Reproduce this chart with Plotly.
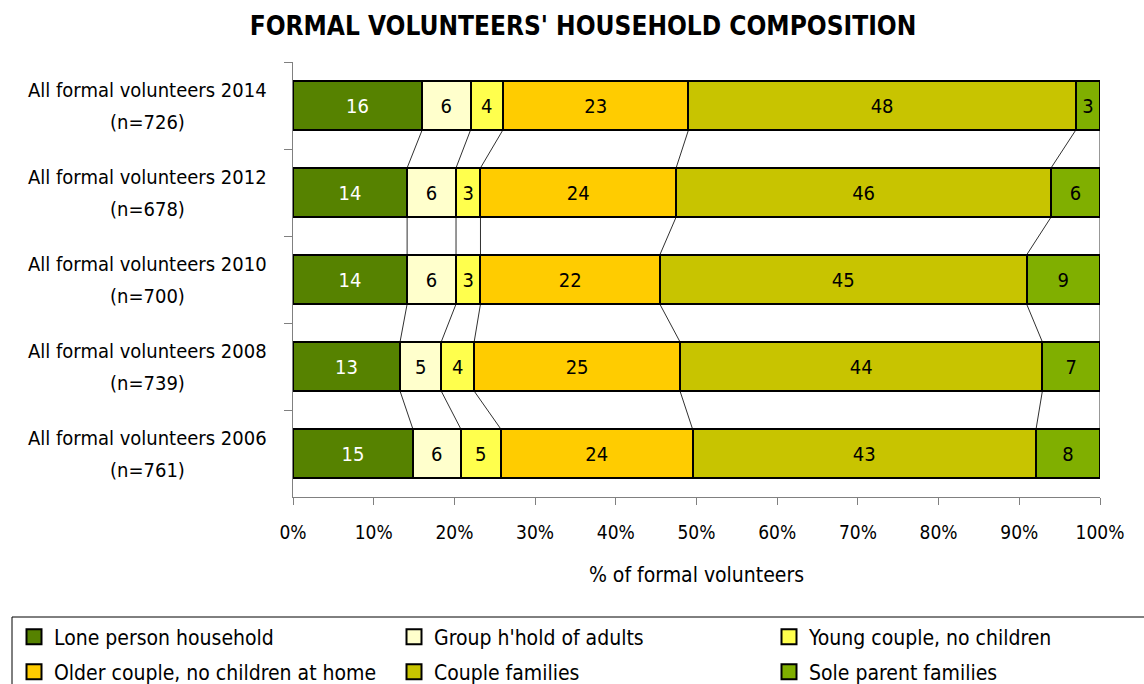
import plotly.graph_objects as go

# Survey groups (top to bottom) and their sample sizes
groups = [
    "All formal volunteers 2014",
    "All formal volunteers 2012",
    "All formal volunteers 2010",
    "All formal volunteers 2008",
    "All formal volunteers 2006",
]
sample_sizes = ["(n=726)", "(n=678)", "(n=700)", "(n=739)", "(n=761)"]

# Household composition shares (%), one list per household type
lone_person = [16, 14, 14, 13, 15]
group_household = [6, 6, 6, 5, 6]
young_couple = [4, 3, 3, 4, 5]
older_couple = [23, 24, 22, 25, 24]
couple_families = [48, 46, 45, 44, 43]
sole_parent = [3, 6, 9, 7, 8]

series_names = [
    "Lone person household",
    "Group h'hold of adults",
    "Young couple, no children",
    "Older couple, no children at home",
    "Couple families",
    "Sole parent families",
]
series_values = [lone_person, group_household, young_couple,
                 older_couple, couple_families, sole_parent]
series_colors = ["#568200", "#FFFFCC", "#FFFF4D", "#FFCC00", "#C8C400", "#80AF00"]
label_colors = ["white", "black", "black", "black", "black", "black"]

FONT = "Liberation Sans Narrow, Arial Narrow, DejaVu Sans Condensed, sans-serif"
BAR_WIDTH = 0.565

# Plot-area geometry in pixels
M_L, M_R, M_T, M_B = 293, 44, 62, 187
W, H = 1144, 684
PLOT_W = W - M_L - M_R
PLOT_H = H - M_T - M_B


def px_x(px):
    return (px - M_L) / PLOT_W


def px_y(py):
    return (H - M_B - py) / PLOT_H


fig = go.Figure()

for name, vals, col, tcol in zip(series_names, series_values, series_colors, label_colors):
    fig.add_trace(go.Bar(
        y=groups, x=vals, name=name, orientation="h",
        marker=dict(color=col, line=dict(color="black", width=2)),
        width=BAR_WIDTH,
        text=[str(v) for v in vals], texttemplate="%{text}",
        textposition="inside", insidetextanchor="middle", textangle=0,
        textfont=dict(family=FONT, size=20, color=tcol),
        showlegend=False, hoverinfo="skip",
    ))

# Legend: three columns by two rows, one legend box per entry
legend_cols = [34, 414, 789]
legend_rows = [637, 672]
legend_layouts = {}
for i, (name, col) in enumerate(zip(series_names, series_colors)):
    key = "legend" if i == 0 else f"legend{i + 1}"
    fig.add_trace(go.Scatter(
        x=[None], y=[None], mode="markers", name=name,
        marker=dict(symbol="square", size=15, color=col,
                    line=dict(color="black", width=2)),
        legend=key,
    ))
    legend_layouts[key] = dict(
        orientation="h", xanchor="left", yanchor="middle",
        x=px_x(legend_cols[i % 3] - 20), y=px_y(legend_rows[i // 3]),
        font=dict(family=FONT, size=21, color="black"),
        bgcolor="rgba(0,0,0,0)", borderwidth=0, itemclick=False,
    )

# Series lines linking the cumulative boundaries of consecutive bars
totals = [sum(v[i] for v in series_values) for i in range(len(groups))]
cums = []
for i in range(len(groups)):
    run, row = 0, []
    for v in series_values:
        run += v[i]
        row.append(run / totals[i] * 100)
    cums.append(row)

half = BAR_WIDTH / 2
for i in range(len(groups) - 1):
    for k in range(len(series_values)):
        fig.add_shape(
            type="line", xref="x", yref="y",
            x0=cums[i][k], y0=i + half, x1=cums[i + 1][k], y1=i + 1 - half,
            line=dict(color="#303030", width=1), layer="below",
        )

# Two-line group labels, centred on each other
for g, n in zip(groups, sample_sizes):
    fig.add_annotation(x=0, xref="paper", y=g, yref="y", text=g, showarrow=False,
                       xanchor="center", xshift=-146, yshift=16,
                       font=dict(family=FONT, size=20, color="black"))
    fig.add_annotation(x=0, xref="paper", y=g, yref="y", text=n, showarrow=False,
                       xanchor="center", xshift=-146, yshift=-16,
                       font=dict(family=FONT, size=20, color="black"))

# Frame around the legend
fig.add_shape(type="rect", xref="paper", yref="paper",
              x0=px_x(12), x1=px_x(1160), y0=px_y(700), y1=px_y(617),
              line=dict(color="black", width=1), fillcolor="rgba(0,0,0,0)")

fig.update_layout(
    width=W, height=H,
    margin=dict(l=M_L, r=M_R, t=M_T, b=M_B, autoexpand=False),
    paper_bgcolor="white", plot_bgcolor="white",
    barmode="stack", barnorm="percent",
    title=dict(text="<b>FORMAL VOLUNTEERS' HOUSEHOLD COMPOSITION</b>",
               x=583 / W, xanchor="center", y=1 - 26 / H, yanchor="middle",
               font=dict(family=FONT, size=26, color="black")),
    xaxis=dict(range=[0, 100], dtick=10, ticksuffix="%", showgrid=False,
               zeroline=False, showline=True, linecolor="#808080", linewidth=1,
               ticks="outside", ticklen=7, tickcolor="#808080",
               ticklabelstandoff=11,
               tickfont=dict(family=FONT, size=19, color="black"),
               title=dict(text="% of formal volunteers", standoff=25,
                          font=dict(family=FONT, size=21, color="black"))),
    yaxis=dict(type="category", categoryorder="array", categoryarray=groups,
               autorange="reversed", showticklabels=False, showgrid=False,
               showline=True, linecolor="#808080", linewidth=1,
               ticks="outside", ticklen=8, tickcolor="#808080",
               tickson="boundaries"),
    **legend_layouts,
)

fig.write_html("out.html")
